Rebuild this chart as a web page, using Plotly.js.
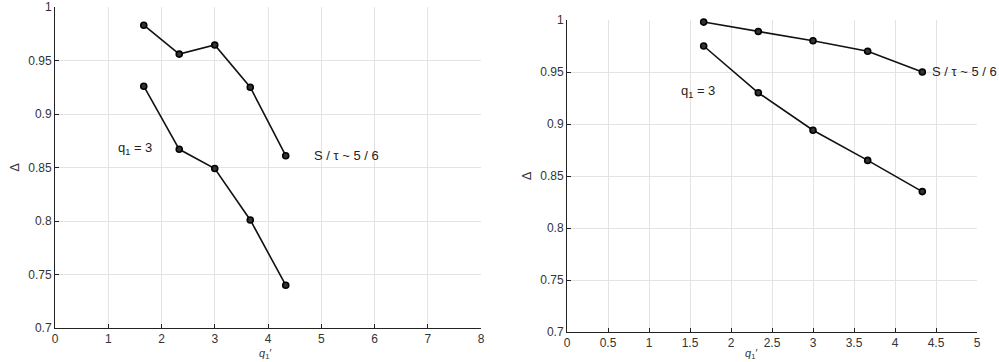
<!DOCTYPE html>
<html><head><meta charset="utf-8">
<script src="https://cdn.plot.ly/plotly-3.0.1.min.js"></script>
<style>html,body{margin:0;padding:0;background:#fff}#c{width:999px;height:362px}</style>
</head><body><div id="c"></div>
<script>
const qValues = [1.667, 2.333, 3, 3.667, 4.333];
const leftUpper = [0.983, 0.956, 0.9645, 0.925, 0.861];
const leftLower = [0.926, 0.867, 0.849, 0.801, 0.740];
const rightUpper = [0.998, 0.989, 0.980, 0.970, 0.950];
const rightLower = [0.975, 0.930, 0.894, 0.865, 0.835];
const labelQ = 'q<sub>1</sub> = 3';
const labelS = 'S / τ ~ 5 / 6';
const xTitle = "<i>q</i><sub>1</sub>′";
const yTitle = 'Δ';

const W = 999, H = 362;
const lineStyle = {color: '#111', width: 1.6};
const markerStyle = {symbol: 'circle', size: 6, color: '#333', line: {color: '#000', width: 1.6}};
function tr(x, y, xa, ya) {
  return {x: x, y: y, xaxis: xa, yaxis: ya, mode: 'lines+markers', line: lineStyle, marker: markerStyle, showlegend: false, hoverinfo: 'skip', cliponaxis: false};
}
const font = {family: 'Liberation Sans, Arial, sans-serif', size: 12, color: '#333'};
function axis(dom, range, dtick, anchor) {
  return {domain: dom, range: range, dtick: dtick, anchor: anchor, showgrid: true, gridcolor: '#e3e3e3', gridwidth: 1,
    zeroline: false, showline: true, linecolor: '#222', linewidth: 1, ticks: 'inside', ticklen: 4, tickcolor: '#222',
    tickfont: font, fixedrange: true};
}
const xa1 = axis([55/W, 481/W], [0, 8], 1, 'y');
xa1.title = {text: ''};
const ya1 = axis([1-328/H, 1-7/H], [0.7, 1], 0.05, 'x');
ya1.title = {text: yTitle, font: {family: font.family, size: 13, color: '#333'}};
const xa2 = axis([567/W, 977/W], [0, 5], 0.5, 'y2');
xa2.title = {text: ''};
const ya2 = axis([1-332/H, 1-20/H], [0.7, 1], 0.05, 'x2');
ya2.title = {text: yTitle, font: {family: font.family, size: 13, color: '#333'}};

const data = [
  tr(qValues, leftUpper, 'x', 'y'),
  tr(qValues, leftLower, 'x', 'y'),
  tr(qValues, rightUpper, 'x2', 'y2'),
  tr(qValues, rightLower, 'x2', 'y2')
];
const annFont = {family: font.family, size: 13, color: '#222'};
const titleFont = {family: font.family, size: 11, color: '#333'};
const layout = {
  width: W, height: H, margin: {l: 0, r: 0, t: 0, b: 0},
  paper_bgcolor: '#fff', plot_bgcolor: '#fff',
  xaxis: xa1, yaxis: ya1, xaxis2: xa2, yaxis2: ya2,
  annotations: [
    {x: 1.5, y: 0.868, xref: 'x', yref: 'y', text: labelQ, showarrow: false, font: annFont},
    {x: 5.48, y: 0.861, xref: 'x', yref: 'y', text: labelS, showarrow: false, font: annFont},
    {x: 1.60, y: 0.931, xref: 'x2', yref: 'y2', text: labelQ, showarrow: false, font: annFont},
    {x: 4.43, y: 0.950, xref: 'x2', yref: 'y2', text: labelS, showarrow: false, xanchor: 'left', font: annFont},
    {x: 3.95, y: 0, xref: 'x', yref: 'paper', text: xTitle, showarrow: false, yanchor: 'bottom', font: titleFont, borderpad: 0},
    {x: 2.24, y: 0, xref: 'x2', yref: 'paper', text: xTitle, showarrow: false, yanchor: 'bottom', font: titleFont, borderpad: 0}
  ]
};
Plotly.newPlot('c', data, layout, {staticPlot: true, displayModeBar: false});
</script></body></html>
